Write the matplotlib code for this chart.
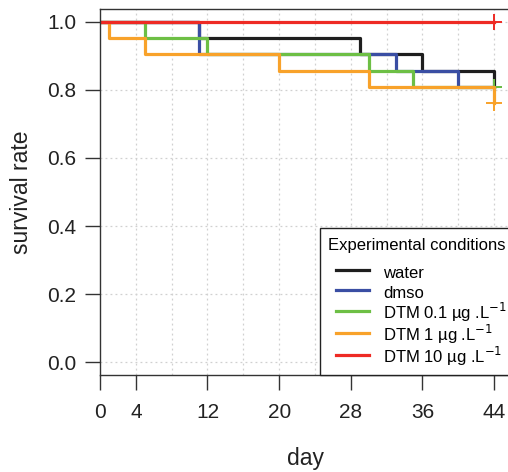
import numpy as np
import matplotlib
matplotlib.use('Agg')
import matplotlib.pyplot as plt
from matplotlib.patches import Rectangle

plt.rcParams['font.family'] = ['Liberation Sans', 'DejaVu Sans']

# survival curves (day of each step, survival after the step)
water_t = [0, 11, 29, 36, 44]
water_s = [1.0, 0.952, 0.905, 0.857, 0.810]
dmso_t = [0, 11, 33, 40, 44]
dmso_s = [1.0, 0.905, 0.857, 0.810, 0.810]
dtm01_t = [0, 5, 12, 30, 35, 44]
dtm01_s = [1.0, 0.952, 0.905, 0.857, 0.810, 0.810]
dtm1_t = [0, 1, 5, 20, 30, 44]
dtm1_s = [1.0, 0.952, 0.905, 0.857, 0.810, 0.762]
dtm10_t = [0, 44]
dtm10_s = [1.0, 1.0]

labels = ['water', 'dmso', r'DTM 0.1 µg .L$^{-1}$',
          r'DTM 1 µg .L$^{-1}$', r'DTM 10 µg .L$^{-1}$']
colors = ['#1e1e1e', '#3a4ea3', '#6dbf45', '#f8a22a', '#ee2a24']
series = [(water_t, water_s), (dmso_t, dmso_s), (dtm01_t, dtm01_s),
          (dtm1_t, dtm1_s), (dtm10_t, dtm10_s)]

xticks = [0, 4, 12, 20, 28, 36, 44]
yticks = [0.0, 0.2, 0.4, 0.6, 0.8, 1.0]

fig = plt.figure(figsize=(5.08, 4.72), dpi=100)
ax = fig.add_axes([100/508, 1-375/472, 412/508, 366/472])

for x in range(4, 45, 4):
    ax.axvline(x, color='#d0d0d0', lw=0.9, ls=(0, (1.5, 2.5)), zorder=0)
for y in yticks:
    ax.axhline(y, color='#d0d0d0', lw=0.9, ls=(0, (1.5, 2.5)), zorder=0)

handles = []
for (t, s), c, lab in zip(series, colors, labels):
    h, = ax.step(t, s, where='post', color=c, lw=2.3, label=lab)
    ax.plot(t[-1], s[-1], marker='+', ms=12, mew=1.4, color=c, clip_on=False)
    handles.append(h)

ax.set_xlim(0, 46)
ax.set_ylim(-0.038, 1.038)
ax.set_xticks(xticks)
ax.set_yticks(yticks)
ax.set_yticklabels([f'{v:.1f}' for v in yticks])
ax.tick_params(axis='both', direction='out', length=11, width=1, color='#333333',
               labelsize=15, labelcolor='#222222')
ax.tick_params(axis='x', pad=9)
ax.tick_params(axis='y', pad=6)
for sp in ax.spines.values():
    sp.set_color('#333333')
    sp.set_linewidth(1)

ax.set_xlabel('day', fontsize=16.5, color='#222222', labelpad=18)
ax.set_ylabel('survival rate', fontsize=16.5, color='#222222', labelpad=10)

# legend box sits on the x axis line, drawn separately from the entries
frame = Rectangle((320/508, 1-375/472), 0.5, 147/472, transform=fig.transFigure,
                  facecolor='white', edgecolor='#222222', lw=1, zorder=4)
fig.add_artist(frame)

# tall handles make every row the same height
leg = fig.legend(handles=handles, labels=labels, title='Experimental conditions',
                 loc='upper left', bbox_to_anchor=(320/508, 1-231/472),
                 fontsize=12, title_fontsize=12, frameon=False,
                 borderaxespad=0,
                 handlelength=2.0, handleheight=1.6, handletextpad=0.85,
                 labelspacing=-0.1, borderpad=0.45)
leg._legend_box.align = 'left'
leg._legend_box.sep = 0
leg._legend_handle_box.pad = 6
leg.set_zorder(5)

fig.savefig('out.png', dpi=100)
